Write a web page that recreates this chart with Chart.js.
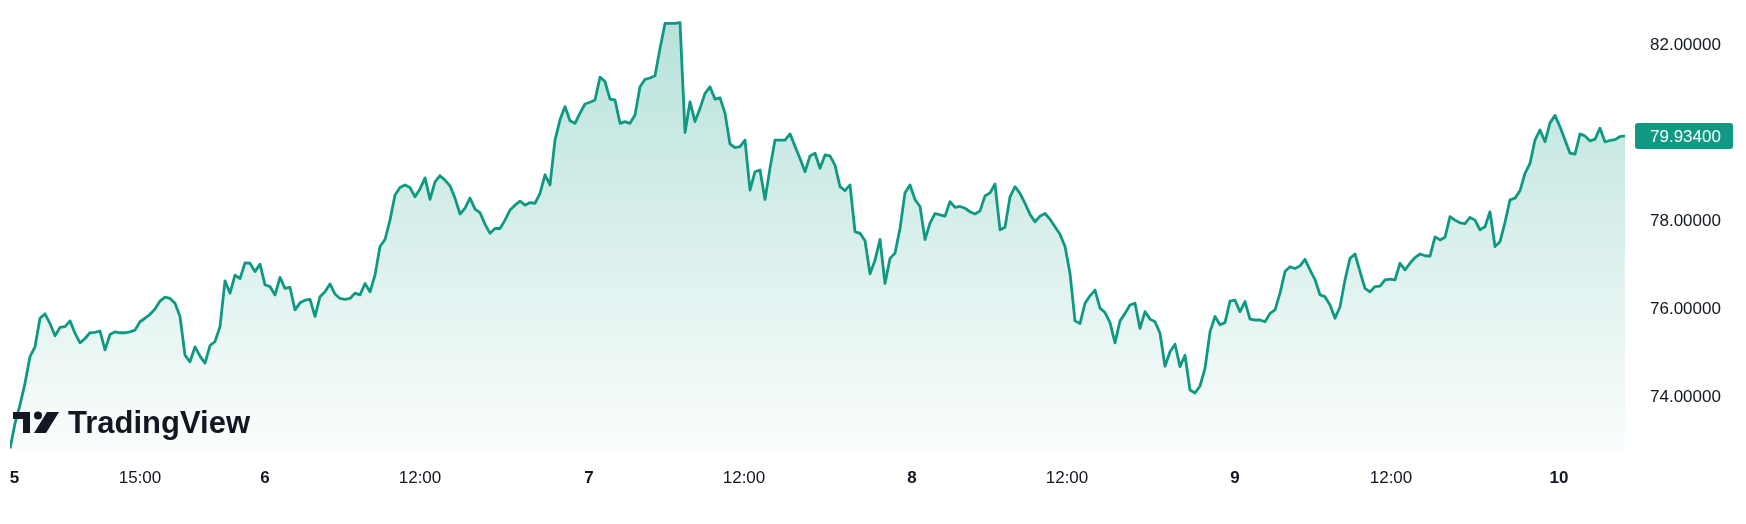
<!DOCTYPE html>
<html>
<head>
<meta charset="utf-8">
<script src="https://cdn.jsdelivr.net/npm/chart.js@4.4.1/dist/chart.umd.min.js"></script>
<style>
  html, body { margin: 0; padding: 0; background: #fff; }
  #wrap { width: 1746px; height: 524px; }
</style>
</head>
<body>
<div id="wrap"><canvas id="chart" width="1746" height="524"></canvas></div>
<script>
// price series, one value per bar
const prices = [
  72.83, 73.40, 73.82, 74.31, 74.92, 75.14, 75.79, 75.89, 75.67, 75.39,
  75.58, 75.60, 75.73, 75.45, 75.23, 75.33, 75.46, 75.47, 75.50, 75.07,
  75.42, 75.48, 75.46, 75.46, 75.48, 75.52, 75.71, 75.79, 75.88, 76.00,
  76.18, 76.27, 76.24, 76.13, 75.83, 74.95, 74.80, 75.14, 74.93, 74.77,
  75.17, 75.26, 75.60, 76.64, 76.36, 76.77, 76.69, 77.05, 77.04, 76.85,
  77.02, 76.55, 76.51, 76.32, 76.72, 76.47, 76.49, 75.98, 76.14, 76.20,
  76.22, 75.83, 76.28, 76.39, 76.57, 76.34, 76.24, 76.22, 76.24, 76.36,
  76.32, 76.58, 76.39, 76.77, 77.42, 77.58, 78.02, 78.59, 78.76, 78.82,
  78.76, 78.55, 78.73, 78.98, 78.49, 78.89, 79.03, 78.93, 78.80, 78.52,
  78.16, 78.29, 78.52, 78.27, 78.19, 77.93, 77.72, 77.83, 77.83, 78.02,
  78.25, 78.36, 78.45, 78.36, 78.42, 78.40, 78.63, 79.05, 78.82, 79.84,
  80.30, 80.60, 80.28, 80.22, 80.45, 80.66, 80.70, 80.75, 81.27, 81.17,
  80.77, 80.75, 80.22, 80.26, 80.22, 80.41, 81.05, 81.22, 81.25, 81.30,
  81.92, 82.49, 82.49, 82.49, 82.51, 80.01, 80.71, 80.26, 80.56, 80.90,
  81.05, 80.77, 80.80, 80.45, 79.75, 79.67, 79.69, 79.84, 78.70, 79.12,
  79.16, 78.49, 79.20, 79.84, 79.84, 79.84, 79.98, 79.70, 79.42, 79.12,
  79.48, 79.54, 79.20, 79.50, 79.48, 79.27, 78.78, 78.69, 78.82, 77.76,
  77.72, 77.55, 76.80, 77.11, 77.58, 76.58, 77.15, 77.27, 77.83, 78.64,
  78.82, 78.49, 78.33, 77.58, 77.95, 78.17, 78.14, 78.11, 78.44, 78.31,
  78.33, 78.29, 78.21, 78.16, 78.23, 78.57, 78.64, 78.84, 77.80, 77.86,
  78.55, 78.78, 78.63, 78.40, 78.15, 77.98, 78.11, 78.17, 78.04, 77.87,
  77.70, 77.42, 76.81, 75.73, 75.67, 76.13, 76.30, 76.43, 76.02, 75.92,
  75.69, 75.23, 75.73, 75.90, 76.09, 76.13, 75.56, 75.94, 75.77, 75.71,
  75.45, 74.70, 75.03, 75.20, 74.69, 74.95, 74.16, 74.09, 74.25, 74.65,
  75.48, 75.83, 75.64, 75.69, 76.18, 76.20, 75.94, 76.17, 75.77, 75.75,
  75.75, 75.71, 75.90, 75.98, 76.36, 76.85, 76.96, 76.92, 76.98, 77.13,
  76.89, 76.67, 76.32, 76.28, 76.09, 75.79, 76.05, 76.66, 77.15, 77.25,
  76.85, 76.47, 76.39, 76.51, 76.52, 76.66, 76.68, 76.66, 77.04, 76.89,
  77.04, 77.17, 77.25, 77.21, 77.20, 77.64, 77.57, 77.63, 78.10, 78.02,
  77.96, 77.94, 78.08, 78.02, 77.80, 77.87, 78.21, 77.42, 77.53, 77.97,
  78.48, 78.52, 78.69, 79.08, 79.31, 79.84, 80.07, 79.80, 80.23, 80.40,
  80.14, 79.84, 79.54, 79.52, 79.98, 79.93, 79.82, 79.86, 80.11, 79.80,
  79.83, 79.85, 79.92, 79.934
];
const lastPrice = 79.934;

// time axis labels and the bar index where each one sits
const xTickPos = [0.9, 26.0, 51.0, 82.0, 115.8, 146.8, 180.4, 211.4, 245.0, 276.2, 309.8];
const xTickLabels = ["5", "15:00", "6", "12:00", "7", "12:00", "8", "12:00", "9", "12:00", "10"];

// price axis
const yTicks = [74, 76, 78, 80, 82];
const yMin = 72.7955;
const yMax = 83.0227;

const teal = "#0f9982";
const textColor = "#131722";
const fontFamily = "'Liberation Sans', Arial, sans-serif";

function areaFill(context) {
  const { ctx, chartArea } = context.chart;
  if (!chartArea) return "rgba(8,153,129,0.15)";
  const g = ctx.createLinearGradient(0, chartArea.top, 0, chartArea.bottom);
  g.addColorStop(0, "rgba(8,153,129,0.30)");
  g.addColorStop(1, "rgba(8,153,129,0.02)");
  return g;
}

const priceLabel = {
  id: "priceLabel",
  afterDraw(chart) {
    const { ctx, scales } = chart;
    const y = scales.y.getPixelForValue(lastPrice);
    const x = scales.y.left + 10;
    ctx.save();
    ctx.fillStyle = teal;
    ctx.beginPath();
    ctx.roundRect(x, Math.round(y) - 13, 98, 26, 3);
    ctx.fill();
    ctx.fillStyle = "#ffffff";
    ctx.font = "17px " + fontFamily;
    ctx.textAlign = "left";
    ctx.textBaseline = "middle";
    ctx.fillText(lastPrice.toFixed(5), scales.y.left + 25, y + 1);
    ctx.restore();
  },
};

const tvLogo = {
  id: "tvLogo",
  afterDatasetsDraw(chart) {
    const ctx = chart.ctx;
    ctx.save();
    ctx.fillStyle = textColor;
    ctx.fillRect(13, 412, 17, 7);
    ctx.fillRect(23, 412, 7, 21);
    ctx.beginPath();
    ctx.arc(38, 415.5, 4, 0, Math.PI * 2);
    ctx.fill();
    ctx.beginPath();
    ctx.moveTo(47, 412);
    ctx.lineTo(59, 412);
    ctx.lineTo(46, 433);
    ctx.lineTo(34, 433);
    ctx.closePath();
    ctx.fill();
    ctx.font = "bold 31px " + fontFamily;
    ctx.textBaseline = "alphabetic";
    ctx.fillText("TradingView", 68, 433);
    ctx.restore();
  },
};

new Chart(document.getElementById("chart"), {
  type: "line",
  data: {
    datasets: [
      {
        data: prices.map((v, i) => ({ x: i, y: v })),
        borderColor: teal,
        borderWidth: 2.8,
        backgroundColor: areaFill,
        fill: "start",
        pointRadius: 0,
        tension: 0,
        borderJoinStyle: "round",
      },
    ],
  },
  options: {
    responsive: false,
    animation: false,
    devicePixelRatio: 1,
    layout: { padding: { left: 10, top: 0, right: 0, bottom: 0 } },
    plugins: {
      legend: { display: false },
      tooltip: { enabled: false },
    },
    scales: {
      x: {
        type: "linear",
        min: 0,
        max: prices.length - 1,
        grid: { display: false, drawTicks: false },
        border: { display: false },
        afterBuildTicks: (scale) => {
          scale.ticks = xTickPos.map((v) => ({ value: v }));
        },
        afterFit: (scale) => {
          scale.height = 74;
          scale.paddingLeft = 0;
          scale.paddingRight = 0;
        },
        ticks: {
          autoSkip: false,
          maxRotation: 0,
          padding: 18,
          color: textColor,
          font: (c) => ({
            family: fontFamily,
            size: 17,
            weight: (xTickLabels[c.index] || "").includes(":") ? "normal" : "bold",
          }),
          callback: (v, i) => xTickLabels[i],
        },
      },
      y: {
        position: "right",
        min: yMin,
        max: yMax,
        grid: { display: false, drawTicks: false },
        border: { display: false },
        afterBuildTicks: (scale) => {
          scale.ticks = yTicks.map((v) => ({ value: v }));
        },
        afterFit: (scale) => {
          scale.width = 121;
          scale.paddingTop = 0;
          scale.paddingBottom = 0;
        },
        ticks: {
          padding: 25,
          color: textColor,
          font: { family: fontFamily, size: 17 },
          callback: (v) => Number(v).toFixed(5),
        },
      },
    },
  },
  plugins: [tvLogo, priceLabel],
});
</script>
</body>
</html>
